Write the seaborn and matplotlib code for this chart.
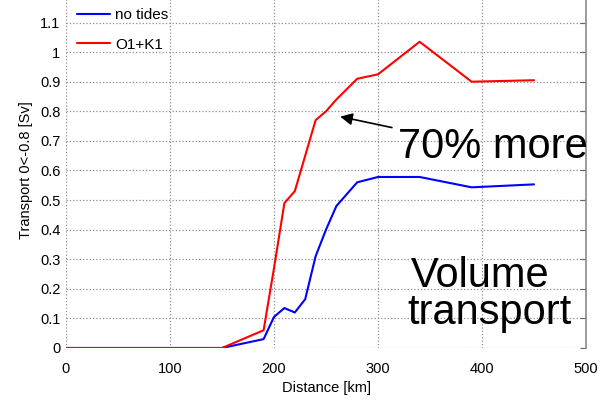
import numpy as np
import matplotlib
matplotlib.use('Agg')
import matplotlib.pyplot as plt
import seaborn as sns
import pandas as pd

sns.set_style('white')
plt.rcParams['font.family'] = ['Liberation Sans', 'DejaVu Sans']
plt.rcParams['text.color'] = 'black'
plt.rcParams['axes.labelcolor'] = 'black'
plt.rcParams['xtick.color'] = 'black'
plt.rcParams['ytick.color'] = 'black'

# distance along section [km]
distance = [0, 150, 190, 200, 210, 220, 230, 240, 250, 260, 280, 300, 340, 390, 450]
no_tides = [0, 0, 0.03, 0.105, 0.135, 0.12, 0.165, 0.31, 0.40, 0.48, 0.56, 0.578, 0.578, 0.543, 0.553]
o1_k1 = [0, 0, 0.06, 0.27, 0.49, 0.53, 0.65, 0.77, 0.80, 0.84, 0.91, 0.925, 1.035, 0.90, 0.905]
series_names = ['no tides', 'O1+K1']
x_ticks = [0, 100, 200, 300, 400, 500]
y_ticks = [0, 0.1, 0.2, 0.3, 0.4, 0.5, 0.6, 0.7, 0.8, 0.9, 1, 1.1]

df = pd.DataFrame({
    'Distance': distance * 2,
    'Transport': no_tides + o1_k1,
    'run': [series_names[0]] * len(distance) + [series_names[1]] * len(distance),
})

fig = plt.figure(figsize=(6, 4.03), dpi=100)
ax = fig.add_axes([0.11, 0.1365, 0.8667, 0.881])
sns.lineplot(data=df, x='Distance', y='Transport', hue='run',
             palette={'no tides': 'blue', 'O1+K1': 'red'}, linewidth=1.5, ax=ax)

ax.set_xlim(0, 500)
ax.set_ylim(0, 1.2)
ax.set_xticks(x_ticks)
ax.set_yticks(y_ticks)
ax.set_yticklabels(['0', '0.1', '0.2', '0.3', '0.4', '0.5', '0.6', '0.7', '0.8', '0.9', '1', '1.1'])
ax.grid(True, linestyle=':', color='0.55', linewidth=0.9)
ax.tick_params(direction='in', length=4, labelsize=10.5, right=True, top=True,
               color='0.4')
ax.tick_params(axis='x', pad=10)
ax.tick_params(axis='y', pad=4)
for side in ['left', 'bottom', 'top']:
    ax.spines[side].set_visible(False)
ax.spines['right'].set_color('0.55')
ax.spines['right'].set_linewidth(1.2)
ax.set_xlabel('Distance [km]', fontsize=10.5)
ax.set_ylabel('Transport 0<-0.8 [Sv]', fontsize=10.5, labelpad=5)

ax.legend(loc='center left', bbox_to_anchor=(0.128, 0.9256), bbox_transform=fig.transFigure,
          frameon=False, fontsize=11, handlelength=2.2, handletextpad=0.3,
          labelspacing=1.0, borderpad=0, borderaxespad=0)

ax.annotate('', xy=(261, 0.784), xytext=(316, 0.743),
            arrowprops=dict(arrowstyle='-|>', color='black', lw=1.2, mutation_scale=18))
ax.text(319, 0.642, '70% more', fontsize=30, va='baseline', ha='left')
ax.text(332, 0.206, 'Volume', fontsize=30, va='baseline', ha='left')
ax.text(328, 0.081, 'transport', fontsize=30, va='baseline', ha='left')

fig.savefig('out.png', dpi=100)
